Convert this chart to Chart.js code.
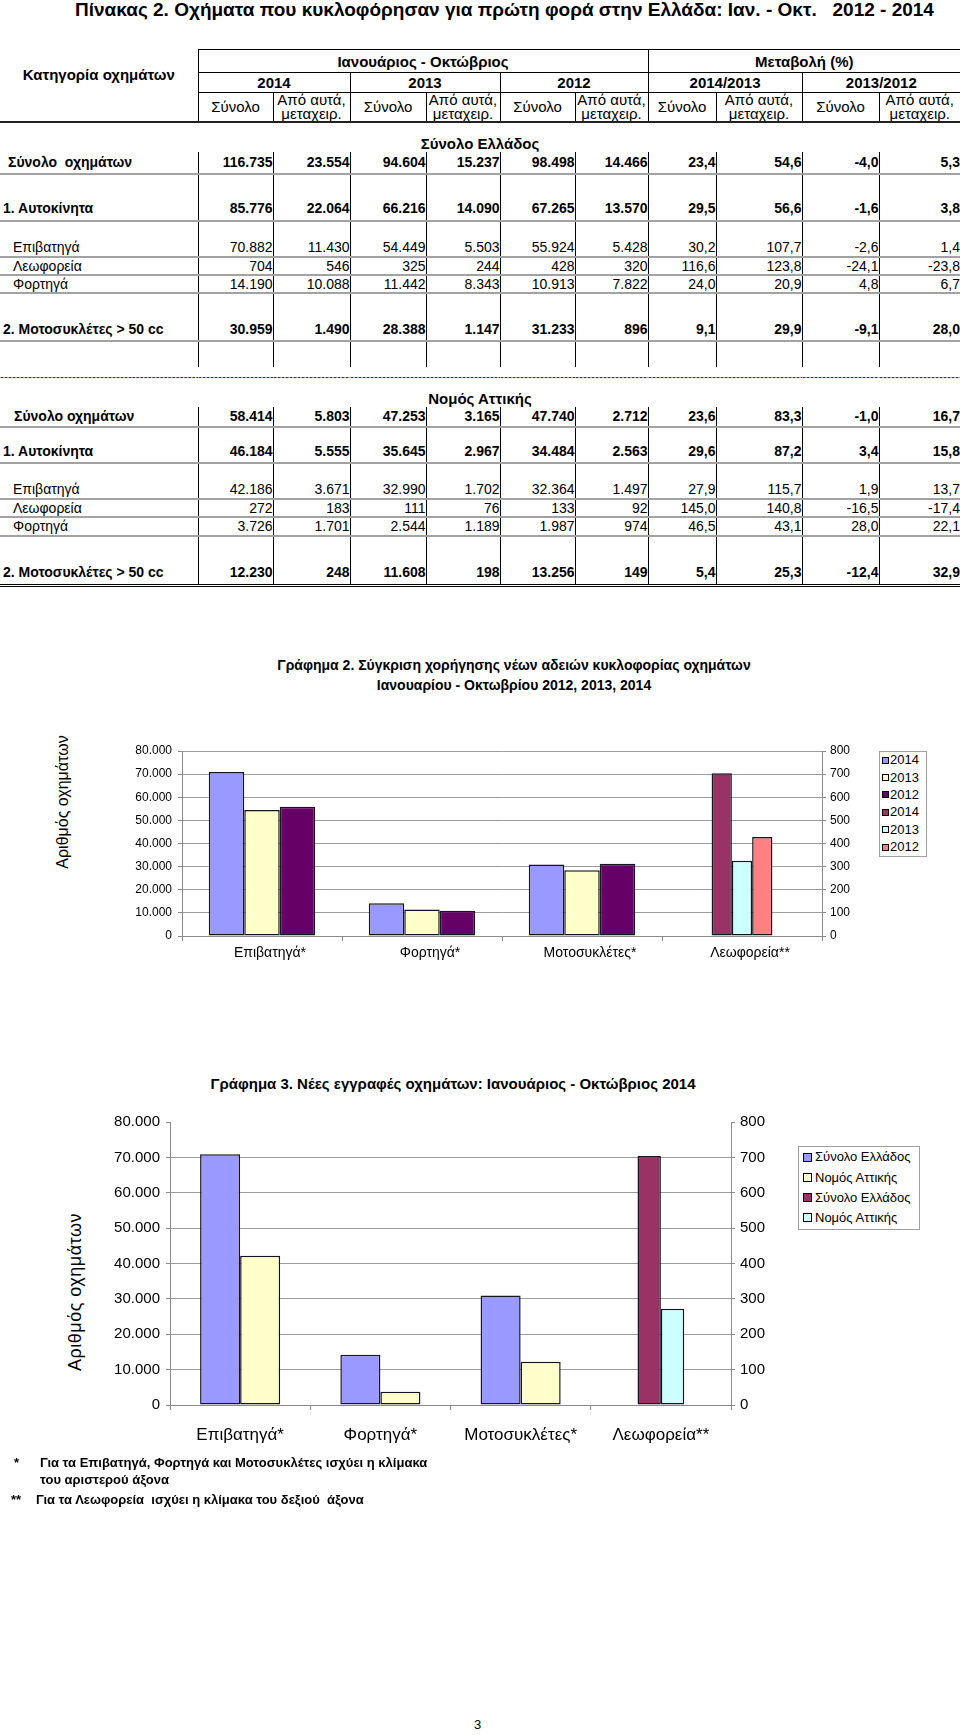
<!DOCTYPE html>
<html lang="el">
<head>
<meta charset="utf-8">
<script src="https://cdn.jsdelivr.net/npm/chart.js@4.4.1/dist/chart.umd.min.js"></script>
<style>
  html,body{margin:0;padding:0;background:#fff;}
  body{width:960px;height:1735px;position:relative;overflow:hidden;font-family:'Liberation Sans',Arial,Helvetica,sans-serif;color:#000;}
  .abs{position:absolute;}
  #mainTitle{left:75px;top:0px;font-size:19px;font-weight:bold;white-space:pre;line-height:20px;}
  table.t{position:absolute;left:0;top:49px;width:960px;border-collapse:collapse;table-layout:fixed;font-size:14px;}
  table.t td{padding:0;white-space:nowrap;overflow:hidden;line-height:15px;}
  table.t tr.b td{font-weight:bold;}
  td.h{font-size:15px;text-align:center;font-weight:normal;line-height:14px !important;}
  td.hb{font-size:15px;text-align:center;font-weight:bold;}
  td.vr{border-right:1px solid #000;}
  td.bt{border-top:1px solid #000;}
  td.bb{border-bottom:1px solid #000;}
  td.bthick{border-bottom:2px solid #222;}
  td.hl{border-bottom:2px solid #a2a2a2;}
  td.bot{border-bottom:3px double #000;}
  td.n{text-align:right;padding-right:6px;}
  td.n8{padding-right:5px;}
  td.n9{padding-right:2px;}
  td.sec{text-align:center;font-weight:bold;font-size:15px;vertical-align:bottom;}
  td.dash{color:#333;font-size:12px;letter-spacing:0px;padding:0 2px;}
  .ytitle{position:absolute;white-space:nowrap;transform:translate(-50%,-50%) rotate(-90deg);}
  .ctitle{position:absolute;text-align:center;font-weight:bold;}
  .legend{position:absolute;border:1px solid #a0a0a0;background:#fff;}
  .legend .it{position:absolute;white-space:nowrap;}
  .legend .sw{position:absolute;border:1px solid #000;box-sizing:border-box;}
  .foot{position:absolute;font-weight:bold;font-size:13px;white-space:pre;line-height:16px;}
  canvas{position:absolute;left:0;}
</style>
</head>
<body>
<div id="mainTitle" class="abs">Πίνακας 2. Οχήματα που κυκλοφόρησαν για πρώτη φορά στην Ελλάδα: Ιαν. - Οκτ.   2012 - 2014</div>
<table class="t" id="tbl"></table>

<div class="ctitle" style="left:214px;top:655px;width:600px;line-height:20px;font-size:14px;">Γράφημα 2. Σύγκριση χορήγησης νέων αδειών κυκλοφορίας οχημάτων<br>Ιανουαρίου - Οκτωβρίου 2012, 2013, 2014</div>
<div class="ytitle" style="left:63px;top:802px;font-size:16px;">Αριθμός οχημάτων</div>
<canvas id="c2" width="960" height="270" style="top:700px;"></canvas>
<div class="legend" id="leg2" style="left:879px;top:751px;width:46px;height:104px;"></div>

<div class="ctitle" style="left:153px;top:1075px;width:600px;line-height:18px;font-size:15px;">Γράφημα 3. Νέες εγγραφές οχημάτων: Ιανουάριος - Οκτώβριος 2014</div>
<div class="ytitle" style="left:75px;top:1292px;font-size:18px;letter-spacing:0.5px;">Αριθμός οχημάτων</div>
<canvas id="c3" width="960" height="356" style="top:1100px;"></canvas>
<div class="legend" id="leg3" style="left:798px;top:1146px;width:120px;height:82px;"></div>

<div class="foot" style="left:14px;top:1455px;">*</div>
<div class="foot" style="left:40px;top:1455px;">Για τα Επιβατηγά, Φορτηγά και Μοτοσυκλέτες ισχύει η κλίμακα</div>
<div class="foot" style="left:40px;top:1472px;">του αριστερού άξονα</div>
<div class="foot" style="left:11px;top:1492px;">**</div>
<div class="foot" style="left:36px;top:1492px;">Για τα Λεωφορεία  ισχύει η κλίμακα του δεξιού  άξονα</div>
<div class="abs" style="left:474px;top:1717px;font-size:13px;">3</div>

<script>
// ---------------- DATA ----------------
const tableTitle = 'Κατηγορία οχημάτων';
const periodHeader = 'Ιανουάριος - Οκτώβριος';
const changeHeader = 'Μεταβολή (%)';
const yearHeaders = ['2014', '2013', '2012'];
const changeYears = ['2014/2013', '2013/2012'];
const subTotal = 'Σύνολο';
const subUsed = 'Από αυτά,<br>μεταχειρ.';
const sectionGreece = 'Σύνολο Ελλάδος';
const sectionAttica = 'Νομός Αττικής';
const rowLabelsGreece = ['Σύνολο  οχημάτων', '1. Αυτοκίνητα', 'Επιβατηγά', 'Λεωφορεία', 'Φορτηγά', '2. Μοτοσυκλέτες > 50 cc'];
const rowLabelsAttica = ['Σύνολο οχημάτων', '1. Αυτοκίνητα', 'Επιβατηγά', 'Λεωφορεία', 'Φορτηγά', '2. Μοτοσυκλέτες > 50 cc'];
const greeceTotal  = ['116.735','23.554','94.604','15.237','98.498','14.466','23,4','54,6','-4,0','5,3'];
const greeceCars   = ['85.776','22.064','66.216','14.090','67.265','13.570','29,5','56,6','-1,6','3,8'];
const greecePass   = ['70.882','11.430','54.449','5.503','55.924','5.428','30,2','107,7','-2,6','1,4'];
const greeceBus    = ['704','546','325','244','428','320','116,6','123,8','-24,1','-23,8'];
const greeceTruck  = ['14.190','10.088','11.442','8.343','10.913','7.822','24,0','20,9','4,8','6,7'];
const greeceMoto   = ['30.959','1.490','28.388','1.147','31.233','896','9,1','29,9','-9,1','28,0'];
const atticaTotal  = ['58.414','5.803','47.253','3.165','47.740','2.712','23,6','83,3','-1,0','16,7'];
const atticaCars   = ['46.184','5.555','35.645','2.967','34.484','2.563','29,6','87,2','3,4','15,8'];
const atticaPass   = ['42.186','3.671','32.990','1.702','32.364','1.497','27,9','115,7','1,9','13,7'];
const atticaBus    = ['272','183','111','76','133','92','145,0','140,8','-16,5','-17,4'];
const atticaTruck  = ['3.726','1.701','2.544','1.189','1.987','974','46,5','43,1','28,0','22,1'];
const atticaMoto   = ['12.230','248','11.608','198','13.256','149','5,4','25,3','-12,4','32,9'];

// Chart 2
const c2Categories = ['Επιβατηγά*', 'Φορτηγά*', 'Μοτοσυκλέτες*', 'Λεωφορεία**'];
const c2Labels = ['2014', '2013', '2012', '2014', '2013', '2012'];
const c2Left2014 = [70882, 14190, 30959, null];
const c2Left2013 = [54449, 11442, 28388, null];
const c2Left2012 = [55924, 10913, 31233, null];
const c2Right2014 = [null, null, null, 704];
const c2Right2013 = [null, null, null, 325];
const c2Right2012 = [null, null, null, 428];

// Chart 3
const c3Categories = ['Επιβατηγά*', 'Φορτηγά*', 'Μοτοσυκλέτες*', 'Λεωφορεία**'];
const c3Labels = ['Σύνολο Ελλάδος', 'Νομός Αττικής', 'Σύνολο Ελλάδος', 'Νομός Αττικής'];
const c3LeftGreece = [70882, 14190, 30959, null];
const c3LeftAttica = [42186, 3726, 12230, null];
const c3RightGreece = [null, null, null, 704];
const c3RightAttica = [null, null, null, 272];

const leftAxisMax = 80000, leftAxisStep = 10000;
const rightAxisMax = 800, rightAxisStep = 100;

// ---------------- TABLE ----------------
const colW = [198, 75, 77, 76, 74, 75, 73, 68, 86, 77, 81];
function vr(i){ return i < 10 ? ' vr' : ''; }
let h = '<colgroup>' + colW.map(w => `<col style="width:${w}px">`).join('') + '</colgroup>';
h += `<tr style="height:23px"><td rowspan="3" class="hb vr bthick" style="vertical-align:top;padding-top:17px">${tableTitle}</td>`
   + `<td colspan="6" class="hb vr bt bb">${periodHeader}</td><td colspan="4" class="hb bt bb">${changeHeader}</td></tr>`;
h += '<tr style="height:20px">' + yearHeaders.concat(changeYears).map((y, i) =>
      `<td colspan="2" class="hb bb${i < 4 ? ' vr' : ''}">${y}</td>`).join('') + '</tr>';
h += '<tr style="height:28px">';
for (let i = 1; i <= 10; i++) {
  h += `<td class="h bthick${vr(i)}">${i % 2 ? subTotal : subUsed}</td>`;
}
h += '</tr>';
function sec(text, ht, pb){ return `<tr style="height:${ht}px"><td colspan="11" class="sec" style="padding-bottom:${pb}px">${text}</td></tr>`; }
function dataRow(label, vals, ht, bold, indent, cls){
  let s = `<tr style="height:${ht}px"${bold ? ' class="b"' : ''}>`;
  s += `<td class="vr ${cls}" style="padding-left:${indent}px">${label.replace(/  /g, ' &nbsp;')}</td>`;
  vals.forEach((v, i) => {
    const c = i + 1;
    s += `<td class="n${c === 9 ? ' n8' : ''}${c === 10 ? ' n9' : ''}${vr(c)} ${cls}">${v}</td>`;
  });
  return s + '</tr>';
}
function emptyRow(ht){
  let s = `<tr style="height:${ht}px">`;
  for (let i = 0; i <= 10; i++) s += `<td class="${vr(i).trim()}"></td>`;
  return s + '</tr>';
}
function dashRow(ht){
  let s = `<tr style="height:${ht}px">`;
  const d = '-'.repeat(60);
  for (let i = 0; i <= 10; i++) s += `<td class="dash">${d}</td>`;
  return s + '</tr>';
}
h += sec(sectionGreece, 30, 1);
h += dataRow(rowLabelsGreece[0], greeceTotal, 22, true, 8, 'hl');
h += emptyRow(23);
h += dataRow(rowLabelsGreece[1], greeceCars, 24, true, 3, 'hl');
h += emptyRow(18);
h += dataRow(rowLabelsGreece[2], greecePass, 18, false, 13, 'hl');
h += dataRow(rowLabelsGreece[3], greeceBus, 18, false, 13, 'hl');
h += dataRow(rowLabelsGreece[4], greeceTruck, 18, false, 13, 'hl');
h += emptyRow(25);
h += dataRow(rowLabelsGreece[5], greeceMoto, 23, true, 3, 'hl');
h += emptyRow(26);
h += dashRow(21);
h += sec(sectionAttica, 19, 1);
h += dataRow(rowLabelsAttica[0], atticaTotal, 20, true, 14, 'hl');
h += emptyRow(13);
h += dataRow(rowLabelsAttica[1], atticaCars, 23, true, 3, 'hl');
h += emptyRow(17);
h += dataRow(rowLabelsAttica[2], atticaPass, 19, false, 13, 'hl');
h += dataRow(rowLabelsAttica[3], atticaBus, 18, false, 13, 'hl');
h += dataRow(rowLabelsAttica[4], atticaTruck, 19, false, 13, 'hl');
h += emptyRow(26);
h += dataRow(rowLabelsAttica[5], atticaMoto, 23, true, 3, 'bot');
document.getElementById('tbl').innerHTML = h;

// ---------------- CHARTS ----------------
const FONT = "'Liberation Sans', Arial, sans-serif";
function grThousands(v){ return String(v).replace(/\B(?=(\d{3})+(?!\d))/g, '.'); }
const GRID = '#9c9c9c', AXIS = '#8a8a8a';
const C_BLUE = '#9999FF', C_CREAM = '#FFFFCC', C_PURPLE = '#660066',
      C_MAROON = '#993366', C_CYAN = '#CCFFFF', C_SALMON = '#FF8080';

function barDs(label, data, color, axis, catPct){
  return { label, data, backgroundColor: color, borderColor: '#151520', borderWidth: 1.5,
           borderSkipped: false, yAxisID: axis, categoryPercentage: catPct, barPercentage: 1,
           skipNull: true, grouped: true };
}

function makeChart(id, cfg){
  const ctx = document.getElementById(id).getContext('2d');
  return new Chart(ctx, {
    type: 'bar',
    data: { labels: cfg.labels, datasets: cfg.datasets },
    options: {
      responsive: false, animation: false, devicePixelRatio: 1,
      layout: { padding: { top: cfg.top, left: 0, right: 0, bottom: 0 } },
      plugins: { legend: { display: false }, tooltip: { enabled: false }, title: { display: false } },
      scales: {
        x: {
          offset: true,
          grid: { offset: true, drawOnChartArea: false, color: AXIS, tickLength: 5, lineWidth: 1 },
          border: { display: true, color: AXIS, width: 1 },
          ticks: { color: '#000', font: { family: FONT, size: cfg.xFont }, padding: cfg.xPad,
                   labelOffset: cfg.labelOffset, maxRotation: 0, autoSkip: false },
          afterFit(s){ s.height = cfg.xHeight; }
        },
        y: {
          position: 'left', min: 0, max: leftAxisMax,
          ticks: { stepSize: leftAxisStep, color: '#000', font: { family: FONT, size: cfg.yFont },
                   padding: cfg.yPad, callback: v => grThousands(v) },
          grid: { color: c => (cfg.hideTopGrid && c.tick && c.tick.value === leftAxisMax) ? 'rgba(0,0,0,0)' : GRID,
                  tickColor: AXIS, tickLength: 4, lineWidth: 1 },
          border: { display: true, color: AXIS, width: 1 },
          afterFit(s){ s.width = cfg.leftW; }
        },
        y2: {
          position: 'right', min: 0, max: rightAxisMax,
          ticks: { stepSize: rightAxisStep, color: '#000', font: { family: FONT, size: cfg.yFont }, padding: cfg.y2Pad },
          grid: { drawOnChartArea: false, color: AXIS, tickLength: 4 },
          border: { display: true, color: AXIS, width: 1 },
          afterFit(s){ s.width = cfg.rightW; }
        }
      }
    }
  });
}

const ch2 = makeChart('c2', {
  labels: c2Categories,
  datasets: [
    barDs(c2Labels[0], c2Left2014, C_BLUE, 'y', 0.665),
    barDs(c2Labels[1], c2Left2013, C_CREAM, 'y', 0.665),
    barDs(c2Labels[2], c2Left2012, C_PURPLE, 'y', 0.665),
    barDs(c2Labels[3], c2Right2014, C_MAROON, 'y2', 0.38),
    barDs(c2Labels[4], c2Right2013, C_CYAN, 'y2', 0.38),
    barDs(c2Labels[5], c2Right2012, C_SALMON, 'y2', 0.38)
  ],
  top: 51, xHeight: 34, xFont: 14, xPad: 4, labelOffset: 8,
  yFont: 12, yPad: 6, y2Pad: 4, leftW: 182, rightW: 138, hideTopGrid: false
});

const ch3 = makeChart('c3', {
  labels: c3Categories,
  datasets: [
    barDs(c3Labels[0], c3LeftGreece, C_BLUE, 'y', 0.571),
    barDs(c3Labels[1], c3LeftAttica, C_CREAM, 'y', 0.571),
    barDs(c3Labels[2], c3RightGreece, C_MAROON, 'y2', 0.333),
    barDs(c3Labels[3], c3RightAttica, C_CYAN, 'y2', 0.333)
  ],
  top: 22, xHeight: 51, xFont: 17, xPad: 15, labelOffset: 0,
  yFont: 15, yPad: 6, y2Pad: 5, leftW: 170, rightW: 229, hideTopGrid: true
});

// ---------------- HTML LEGENDS (from dataset labels/colours) ----------------
function buildLegend(elId, chart, opt){
  const el = document.getElementById(elId);
  chart.data.datasets.forEach((ds, i) => {
    const cy = opt.first + i * opt.pitch;
    const it = document.createElement('div');
    it.className = 'it';
    it.style.left = opt.textX + 'px';
    it.style.top = (cy - opt.font * 0.6) + 'px';
    it.style.fontSize = opt.font + 'px';
    it.style.lineHeight = (opt.font * 1.2) + 'px';
    it.textContent = ds.label;
    const sw = document.createElement('div');
    sw.className = 'sw';
    sw.style.left = opt.swX + 'px';
    sw.style.top = (cy - opt.sw / 2) + 'px';
    sw.style.width = opt.sw + 'px';
    sw.style.height = opt.sw + 'px';
    sw.style.background = ds.backgroundColor;
    el.appendChild(sw); el.appendChild(it);
  });
}
buildLegend('leg2', ch2, { first: 8, pitch: 17.4, swX: 2, sw: 7, textX: 10, font: 13 });
buildLegend('leg3', ch3, { first: 10, pitch: 20.3, swX: 4, sw: 9, textX: 16, font: 13 });
</script>
</body>
</html>
